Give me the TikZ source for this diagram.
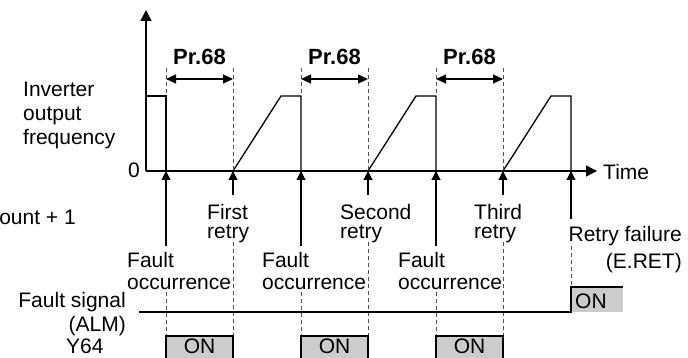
\documentclass[tikz,border=0pt]{standalone}
\usepackage{fontspec}
\setmainfont{Liberation Sans}
\usetikzlibrary{arrows.meta}
\definecolor{ongray}{RGB}{204,204,204}
\definecolor{dashgray}{RGB}{80,80,80}
\begin{document}
\begin{tikzpicture}[x=1pt,y=-1pt,
  txt/.style={font=\fontsize{21}{24}\selectfont, inner sep=0pt},
  prtxt/.style={font=\fontsize{22}{24}\selectfont\bfseries, inner sep=0pt},
  wave/.style={line width=1.3pt, line join=miter},
  axisline/.style={line width=1.3pt, -{Triangle[length=11pt,width=11pt]}},
  evarrow/.style={line width=1.1pt, -{Triangle[length=9pt,width=9pt]}},
  dimarrow/.style={line width=1.2pt, {Triangle[length=10pt,width=9pt]}-{Triangle[length=10pt,width=9pt]}},
  guide/.style={dashgray, line width=1pt, dash pattern=on 4pt off 3pt},
  border/.style={line width=1.3pt},
]
\useasboundingbox (0,0) rectangle (688,358);

% key coordinates
\coordinate (O) at (146,171);
\coordinate (ytop) at (146,10);
\coordinate (xend) at (597,171);
\coordinate (w0) at (146,96);
\foreach \n/\x in {1/166,2/301,3/436,4/571}{
  \coordinate (f\n) at (\x,171);
  \coordinate (f\n h) at (\x,96);
  \coordinate (f\n t) at (\x,68);
  \coordinate (f\n a) at (\x,79);
}
\foreach \n/\x in {1/233,2/368,3/503}{
  \coordinate (r\n) at (\x,171);
  \coordinate (r\n t) at (\x,68);
  \coordinate (r\n a) at (\x,79);
}
\coordinate (p1) at (281,96);
\coordinate (p2) at (416,96);
\coordinate (p3) at (551,96);

% axes
\draw[axisline] (O) -- (ytop);
\draw[axisline] (O) -- (xend);

% waveform
\draw[wave] (w0) -- (f1h) -- (f1);
\draw[wave] (r1) -- (p1) -- (f2h) -- (f2);
\draw[wave] (r2) -- (p2) -- (f3h) -- (f3);
\draw[wave] (r3) -- (p3) -- (f4h) -- (f4);

% Pr.68 dimensions
\foreach \n in {1,2,3}{
  \draw[guide] (f\n t) -- (f\n h);
  \draw[guide] (r\n t) -- (r\n);
  \draw[dimarrow] (f\n a) -- (r\n a);
}
\node[prtxt, anchor=base] (pr1) at (199.5,65) {Pr.68};
\node[prtxt, anchor=base] (pr2) at (334.5,65) {Pr.68};
\node[prtxt, anchor=base] (pr3) at (469.5,65) {Pr.68};

% axis labels
\node[txt, anchor=base west] (lab1) at (23,97) {Inverter};
\node[txt, anchor=base west] (lab2) at (23,121) {output};
\node[txt, anchor=base west] (lab3) at (23,145) {frequency};
\node[txt, anchor=base east] (zero) at (140,178) {0};
\node[txt, anchor=base west] (time) at (603,180) {Time};
\node[txt, anchor=base east] (count) at (76,225) {ount + 1};

% event arrows and guides
\foreach \n/\x in {1/166,2/301,3/436}{
  \coordinate (fs\n) at (\x,246);
  \coordinate (fg\n) at (\x,292);
  \coordinate (fb\n) at (\x,336);
  \draw[evarrow] (fs\n) -- (f\n);
  \draw[guide] (fg\n) -- (fb\n);
}
\foreach \n/\x in {1/233,2/368,3/503}{
  \coordinate (rs\n) at (\x,195);
  \coordinate (rg\n) at (\x,242);
  \coordinate (rb\n) at (\x,336);
  \draw[evarrow] (rs\n) -- (r\n);
  \draw[guide] (rg\n) -- (rb\n);
}
\coordinate (fs4) at (571,219);
\coordinate (fg4) at (571,246);
\coordinate (fb4) at (571,287);
\draw[evarrow] (fs4) -- (f4);
\draw[guide] (fg4) -- (fb4);

\node[txt, anchor=base west] (fa1) at (127,267) {Fault};
\node[txt, anchor=base west] (fo1) at (127,289) {occurrence};
\node[txt, anchor=base west] (fa2) at (262,267) {Fault};
\node[txt, anchor=base west] (fo2) at (262,289) {occurrence};
\node[txt, anchor=base west] (fa3) at (398,267) {Fault};
\node[txt, anchor=base west] (fo3) at (398,289) {occurrence};

\node[txt, anchor=base west] (ra1) at (207,219) {First};
\node[txt, anchor=base west] (rb1t) at (207,238) {retry};
\node[txt, anchor=base west] (ra2) at (340,219) {Second};
\node[txt, anchor=base west] (rb2t) at (340,238) {retry};
\node[txt, anchor=base west] (ra3) at (474,219) {Third};
\node[txt, anchor=base west] (rb3t) at (474,238) {retry};

\node[txt, anchor=base east] (rf1) at (682,241) {Retry failure};
\node[txt, anchor=base east] (rf2) at (682,269) {(E.RET)};

% signal labels
\node[txt, anchor=base east] (sig1) at (126,307) {Fault signal};
\node[txt, anchor=base east] (sig2) at (126,331) {(ALM)};
\node[txt, anchor=base west] (sig3) at (66,353) {Y64};

% ALM signal
\coordinate (alm0) at (139,312);
\coordinate (alm1) at (571,312);
\coordinate (alm2) at (623,287);
\fill[ongray] (fb4) rectangle (623,312);
\draw[border] (alm0) -- (alm1) -- (fb4) -- (alm2);
\node[txt, anchor=base west] (onA) at (575,308) {ON};

% Y64 signal boxes
\foreach \n/\a/\b in {1/166/233,2/301/368,3/436/503}{
  \fill[ongray] (\a,336) rectangle (\b,362);
  \draw[border] (\a,362) -- (fb\n) -- (rb\n) -- (\b,362);
}
\node[txt, anchor=base] (on1) at (199.5,353.5) {ON};
\node[txt, anchor=base] (on2) at (334.5,353.5) {ON};
\node[txt, anchor=base] (on3) at (469.5,353.5) {ON};
\end{tikzpicture}
\end{document}
